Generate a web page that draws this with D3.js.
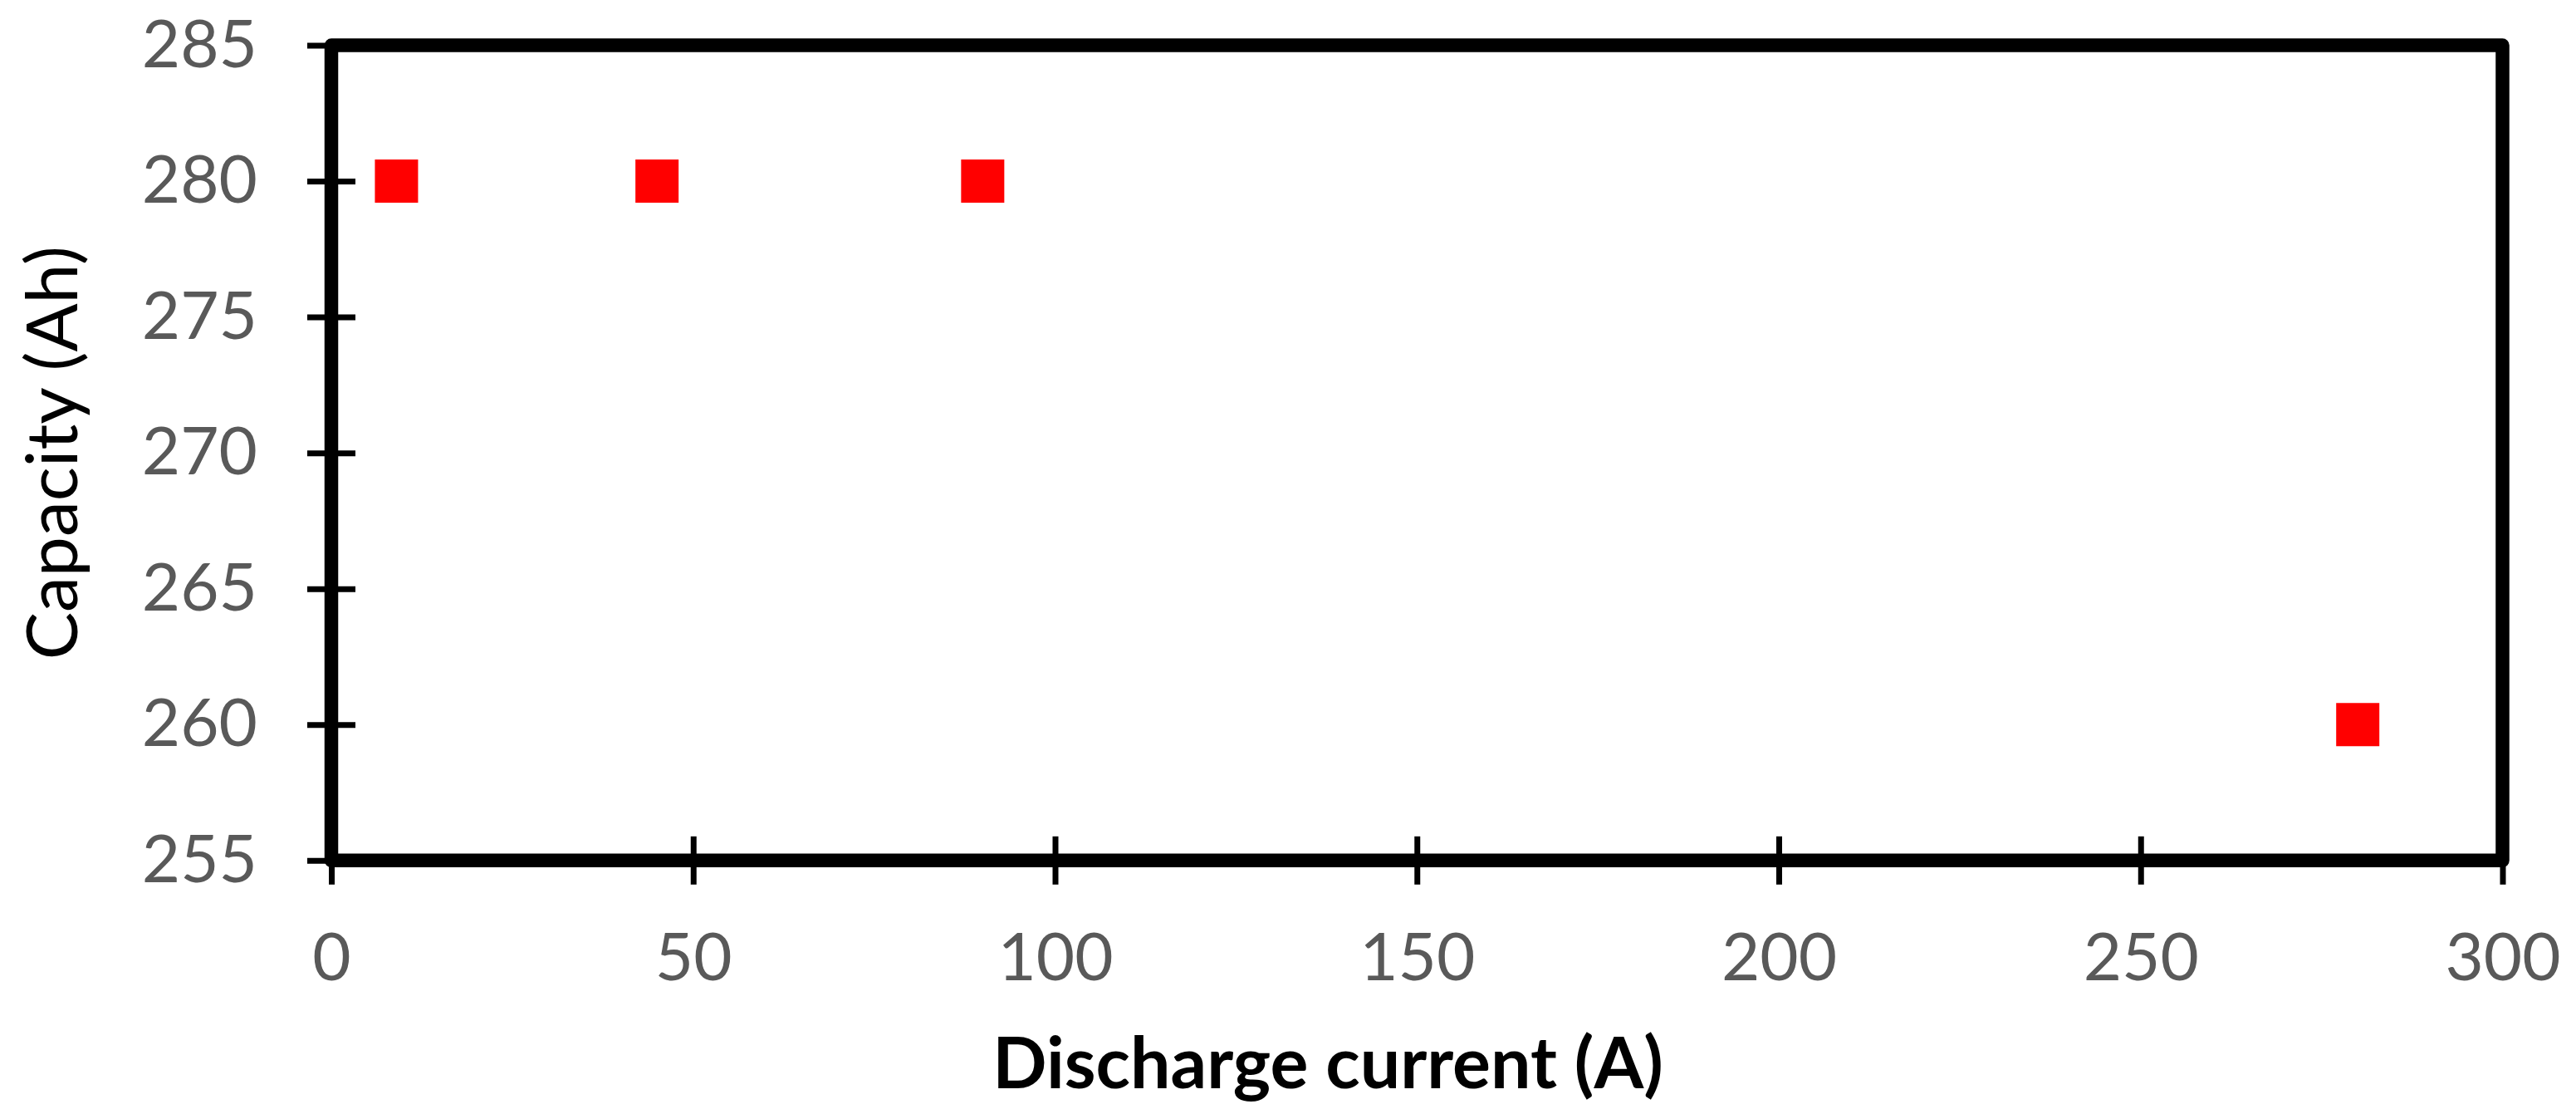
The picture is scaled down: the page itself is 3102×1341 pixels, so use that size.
<!DOCTYPE html>
<html lang="en">
<head>
    <meta charset="UTF-8">
    <title>Capacity vs discharge current</title>
    <script src="https://cdn.jsdelivr.net/npm/d3@7"></script>
    <style>
        body {
            margin: 0;
            padding: 0;
            background: #ffffff;
        }

        .tick text {
            font-family: Lato, sans-serif;
            font-size: 80px;
            fill: #595959;
        }

        .tick line {
            stroke: #000000;
            stroke-width: 7px;
        }

        text.axis-title {
            font-family: Lato, sans-serif;
            font-size: 86px;
            fill: #000000;
        }
    </style>
</head>

<body>
    <div id="chart"></div>

    <script>
        // data
        const current = [9, 45, 90, 280];       // discharge current (A)
        const capacity = [280, 280, 280, 260];  // capacity (Ah)

        const xTicks = [0, 50, 100, 150, 200, 250, 300];
        const yTicks = [255, 260, 265, 270, 275, 280, 285];

        const width = 3102;
        const height = 1341;

        // plot box (pixel positions of the frame)
        const plot = { left: 399, right: 3013.5, top: 54.5, bottom: 1035.8 };

        const svg = d3.select("#chart")
            .append("svg")
            .attr("width", width)
            .attr("height", height);

        const x = d3.scaleLinear().domain([0, 300]).range([plot.left, plot.right]);
        const y = d3.scaleLinear().domain([255, 285]).range([plot.bottom, plot.top]);

        // x axis with ticks crossing the frame
        const xAxis = svg.append("g")
            .attr("transform", "translate(0," + plot.bottom + ")")
            .call(d3.axisBottom(x).tickValues(xTicks).tickSize(29).tickPadding(58));
        xAxis.select(".domain").remove();
        xAxis.selectAll(".tick line").attr("y1", -29);
        xAxis.selectAll(".tick text").attr("font-family", null).attr("font-size", null);

        // y axis
        const yAxis = svg.append("g")
            .attr("transform", "translate(" + plot.left + ",0)")
            .call(d3.axisLeft(y).tickValues(yTicks).tickSize(29).tickPadding(60));
        yAxis.select(".domain").remove();
        yAxis.selectAll(".tick line").attr("x1", 29);
        yAxis.selectAll(".tick text").attr("font-family", null).attr("font-size", null);

        // frame
        svg.append("rect")
            .attr("x", plot.left)
            .attr("y", plot.top)
            .attr("width", plot.right - plot.left)
            .attr("height", plot.bottom - plot.top)
            .attr("fill", "none")
            .attr("stroke", "#000000")
            .attr("stroke-width", 16.5)
            .attr("stroke-linejoin", "round");

        // markers
        const points = current.map((c, i) => ({ c: c, q: capacity[i] }));
        svg.selectAll("path.marker")
            .data(points)
            .join("path")
            .attr("class", "marker")
            .attr("d", d3.symbol().type(d3.symbolSquare).size(52 * 52))
            .attr("transform", d => "translate(" + x(d.c) + "," + y(d.q) + ")")
            .attr("fill", "#ff0000");

        // axis titles
        svg.append("text")
            .attr("class", "axis-title")
            .attr("x", 1599)
            .attr("y", 1310)
            .attr("text-anchor", "middle")
            .style("font-weight", "bold")
            .text("Discharge current (A)");

        svg.append("text")
            .attr("class", "axis-title")
            .attr("transform", "translate(93," + ((plot.top + plot.bottom) / 2) + ") rotate(-90)")
            .attr("text-anchor", "middle")
            .text("Capacity (Ah)");
    </script>
</body>
</html>
